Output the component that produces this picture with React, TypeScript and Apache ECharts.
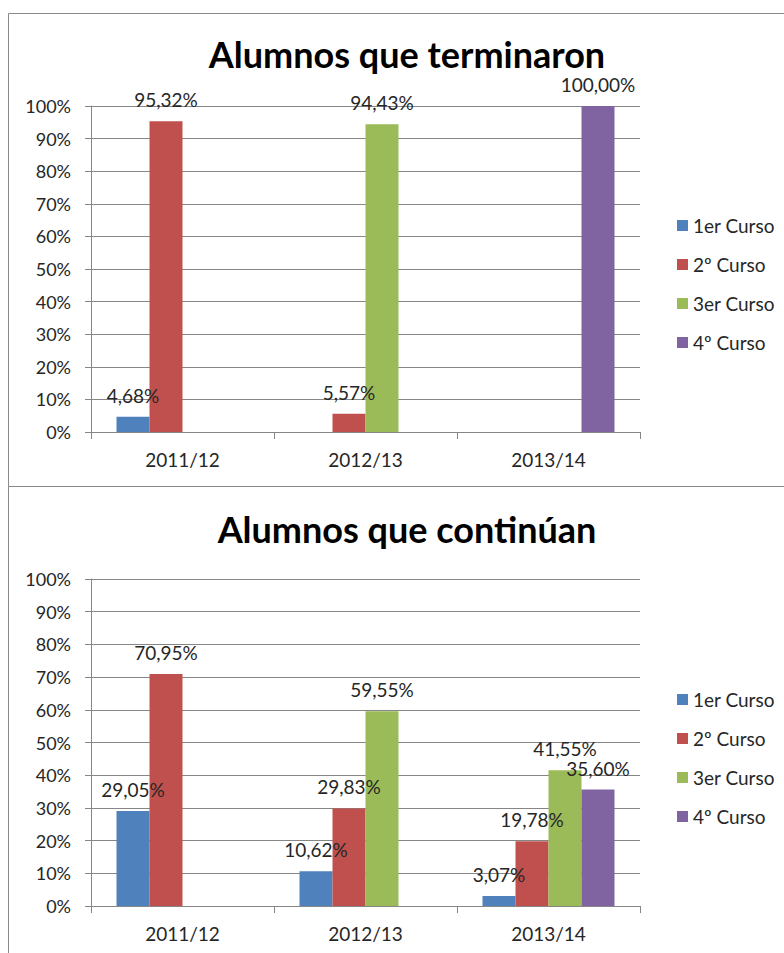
import React, { useEffect, useRef } from "react";
import * as echarts from "echarts";

const categories = ["2011/12", "2012/13", "2013/14"];
const seriesNames = ["1er Curso", "2º Curso", "3er Curso", "4º Curso"];
const colors = ["#4F81BD", "#C0504D", "#9BBB59", "#8064A2"];

// Alumnos que terminaron
const terminaron1 = [4.68, null, null];
const terminaron2 = [95.32, 5.57, null];
const terminaron3 = [null, 94.43, null];
const terminaron4 = [null, null, 100.0];

// Alumnos que continúan
const continuan1 = [29.05, 10.62, 3.07];
const continuan2 = [70.95, 29.83, 19.78];
const continuan3 = [null, 59.55, 41.55];
const continuan4 = [null, null, 35.6];

const titles = ["Alumnos que terminaron", "Alumnos que continúan"];

const FONT = "Lato";
const GRID_COLOR = "#868686";
const TEXT_COLOR = "#262626";

export default function App() {
  const ref = useRef<HTMLDivElement>(null);

  useEffect(() => {
    if (!ref.current) return;
    const chart = echarts.init(ref.current, null, { renderer: "svg" });

    const fmt = (p: any) =>
      p.value == null ? "" : Number(p.value).toFixed(2).replace(".", ",") + "%";

    const makeSeries = (data: (number | null)[][], gridIndex: number) =>
      data.map((d, i) => ({
        name: seriesNames[i],
        type: "bar",
        xAxisIndex: gridIndex,
        yAxisIndex: gridIndex,
        barWidth: 33,
        barGap: "0%",
        data: d.map((v) => (v == null ? "-" : v)),
        itemStyle: { color: colors[i] },
        label: {
          show: true,
          position: "top",
          distance: 12,
          formatter: fmt,
          fontFamily: FONT,
          fontSize: 19,
          color: TEXT_COLOR,
        },
      }));

    const xAxis = (gridIndex: number) => ({
      type: "category",
      gridIndex,
      data: categories,
      axisLine: { lineStyle: { color: GRID_COLOR, width: 1 } },
      axisTick: { show: true, length: 7, lineStyle: { color: GRID_COLOR } },
      axisLabel: { margin: 18, fontFamily: FONT, fontSize: 19, color: TEXT_COLOR },
    });

    const yAxis = (gridIndex: number) => ({
      type: "value",
      gridIndex,
      min: 0,
      max: 100,
      interval: 10,
      axisLine: { show: true, lineStyle: { color: GRID_COLOR, width: 1 } },
      axisTick: { show: true, length: 6, lineStyle: { color: GRID_COLOR } },
      splitLine: { show: true, lineStyle: { color: GRID_COLOR, width: 1 } },
      axisLabel: {
        formatter: "{value}%",
        margin: 20,
        fontFamily: FONT,
        fontSize: 18,
        color: TEXT_COLOR,
      },
    });

    const legend = (top: number) => ({
      orient: "vertical",
      left: 672,
      top,
      itemWidth: 11,
      itemHeight: 11,
      itemGap: 20,
      icon: "rect",
      data: seriesNames,
      textStyle: { fontFamily: FONT, fontSize: 19, color: TEXT_COLOR },
    });

    chart.setOption({
      animation: false,
      backgroundColor: "#ffffff",
      title: [
        {
          text: titles[0],
          left: 402,
          top: 31,
          textAlign: "center",
          textStyle: { fontFamily: FONT, fontSize: 36, fontWeight: "bold", color: "#000" },
        },
        {
          text: titles[1],
          left: 402,
          top: 506,
          textAlign: "center",
          textStyle: { fontFamily: FONT, fontSize: 36, fontWeight: "bold", color: "#000" },
        },
      ],
      legend: [legend(211), legend(685)],
      grid: [
        { left: 91, top: 106, width: 549, height: 326 },
        { left: 91, top: 579, width: 549, height: 327 },
      ],
      xAxis: [xAxis(0), xAxis(1)],
      yAxis: [yAxis(0), yAxis(1)],
      series: [
        ...makeSeries([terminaron1, terminaron2, terminaron3, terminaron4], 0),
        ...makeSeries([continuan1, continuan2, continuan3, continuan4], 1),
      ],
      graphic: [
        {
          type: "rect",
          shape: { x: 8.5, y: 13.5, width: 800, height: 473 },
          style: { fill: "none", stroke: "#8a8a8a", lineWidth: 1 },
          silent: true,
        },
        {
          type: "rect",
          shape: { x: 8.5, y: 486.5, width: 800, height: 500 },
          style: { fill: "none", stroke: "#8a8a8a", lineWidth: 1 },
          silent: true,
        },
      ],
    });

    return () => chart.dispose();
  }, []);

  return (
    <div
      ref={ref}
      style={{ position: "absolute", left: 0, top: 0, width: 784, height: 953 }}
    />
  );
}
